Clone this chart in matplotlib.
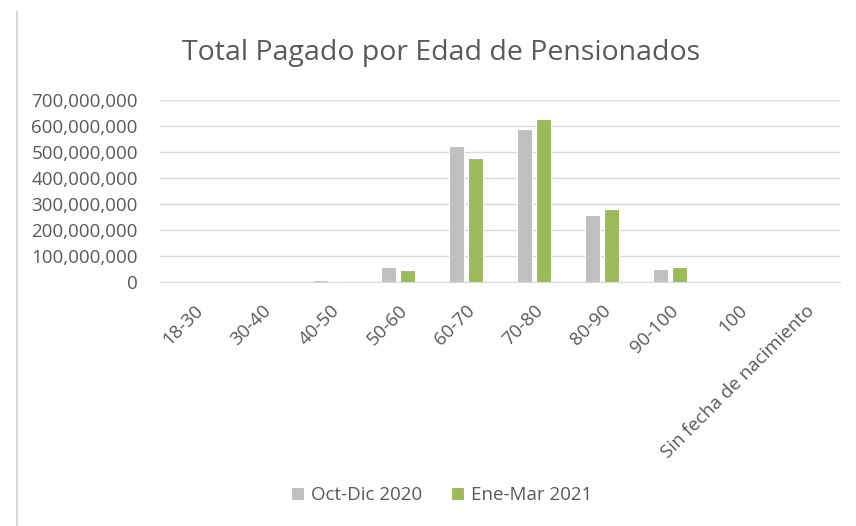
import numpy as np
import matplotlib.pyplot as plt
from matplotlib.ticker import FuncFormatter

# valores
categorias = ["18-30", "30-40", "40-50", "50-60", "60-70", "70-80",
              "80-90", "90-100", "100", "Sin fecha de nacimiento"]
oct_dic_2020 = [300000, 800000, 6000000, 57000000, 523000000, 588000000,
                259000000, 49000000, 500000, 200000]
ene_mar_2021 = [300000, 900000, 5000000, 44000000, 478000000, 625000000,
                282000000, 58000000, 600000, 200000]

plt.rcParams['font.family'] = ['Open Sans', 'DejaVu Sans']
gris_texto = "#595959"

fig = plt.figure(figsize=(8.56, 5.26), dpi=100)
ax = fig.add_axes([0.187, 0.464, 0.794, 0.346])

x = np.arange(len(categorias))
w = 0.22
ax.bar(x - 0.143, oct_dic_2020, w, color="#bfbfbf", edgecolor="white",
       linewidth=0.8, label="Oct-Dic 2020", zorder=3)
ax.bar(x + 0.143, ene_mar_2021, w, color="#9bbb59", edgecolor="white",
       linewidth=0.8, label="Ene-Mar 2021", zorder=3)

ax.set_xlim(-0.5, len(categorias) - 0.5)
ax.set_ylim(0, 700000000)
ax.set_yticks(np.arange(0, 700000001, 100000000))
ax.yaxis.set_major_formatter(FuncFormatter(lambda v, p: f"{int(v):,}"))
ax.grid(axis="y", color="#d9d9d9", linewidth=1, zorder=0)
for s in ["top", "right", "left"]:
    ax.spines[s].set_visible(False)
ax.spines["bottom"].set_color("#d9d9d9")
ax.tick_params(axis="both", length=0, colors=gris_texto, labelsize=13.5)
ax.tick_params(axis="y", pad=16)

ax.set_xticks(x)
ax.set_xticklabels(categorias, rotation=45, ha="right", rotation_mode="anchor")
ax.tick_params(axis="x", pad=14)

fig.text(0.515, 0.9, "Total Pagado por Edad de Pensionados", ha="center",
         va="center", fontsize=20.5, color=gris_texto)

fig.legend(loc="center", bbox_to_anchor=(0.516, 0.058), ncol=2, frameon=False,
           fontsize=13.5, handlelength=0.7, handleheight=0.7, handletextpad=0.4,
           columnspacing=1.5, labelcolor=gris_texto)

# borde izquierdo del marco del grafico
fig.add_artist(plt.Line2D([0.02, 0.02], [0.0, 0.977], color="#d9d9d9",
                          linewidth=1.5, transform=fig.transFigure))

fig.savefig("out.png", dpi=100)
